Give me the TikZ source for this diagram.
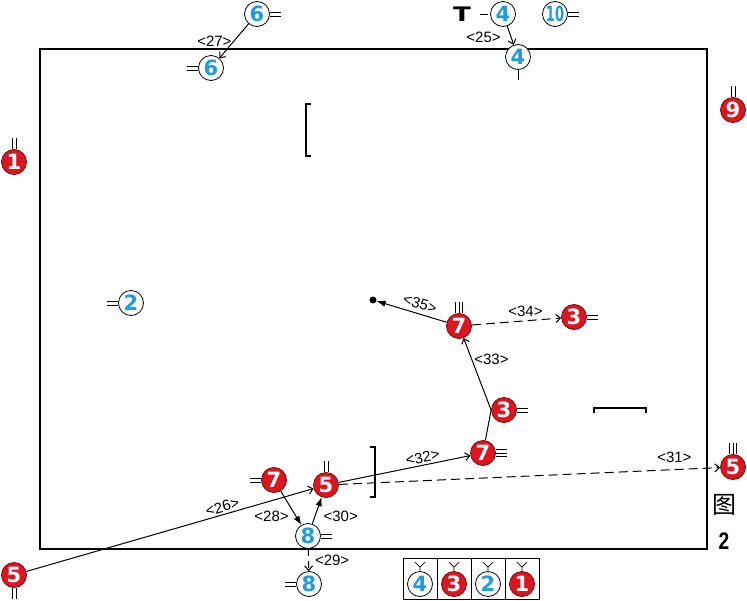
\documentclass[tikz,border=0pt]{standalone}
\usepackage{fontspec}
\setmainfont{Liberation Sans}
\newfontfamily\numfont{DejaVu Sans}
\newfontfamily\cjk{Noto Sans CJK SC}
\usepackage{graphicx}
\usetikzlibrary{arrows.meta}
\definecolor{manred}{RGB}{220,22,32}
\definecolor{rimred}{RGB}{110,10,10}
\definecolor{manblue}{RGB}{30,155,225}
\tikzset{
    blueman/.style={shape=circle, draw=black, line width=0.8pt, fill=white, text=manblue,
        minimum size=25pt, inner sep=0pt, font=\numfont\bfseries\fontsize{21}{21}\selectfont},
    redman/.style={shape=circle, draw=rimred, line width=0.8pt, fill=manred, text=white,
        minimum size=25pt, inner sep=0pt, font=\numfont\bfseries\fontsize{21}{21}\selectfont},
    runlabel/.style={font=\fontsize{15}{15}\selectfont, inner sep=2pt, text=black},
    pass/.style={line width=1pt, >={Straight Barb[length=4.5pt,width=8pt]}},
    shot/.style={line width=1pt, >={Latex[length=9pt,width=6.5pt]}},
    facing/.style={line width=0.8pt},
    bracket/.style={line width=1.3pt}}

\begin{document}
\begin{tikzpicture}[x=1pt, y=-1pt]
    \useasboundingbox (0,0) rectangle (747,600);

    % court and marks
    \draw[line width=2.6pt] (40,49) rectangle (707,549);
    \draw[bracket] (311,104) -- (306,104) -- (306,156) -- (311,156);
    \draw[bracket] (370,447) -- (375,447) -- (375,497) -- (370,497);
    \draw[bracket] (594,413) -- (594,408) -- (646,408) -- (646,413);

    % players
    \node[blueman] (b6a) at (257,14) {6};
    \node[blueman] (b6b) at (211,68) {6};
    \node[font=\numfont\bfseries\fontsize{20}{20}\selectfont] (tee) at (462,14) {\scalebox{1.3}[1]{T}};
    \node[blueman] (b4a) at (503,14) {4};
    \node[blueman] (b4b) at (518,57) {4};
    \node[blueman] (b10) at (555,14) {\scalebox{0.62}[1]{10}};
    \node[redman] (r9) at (733,110) {9};
    \node[redman] (r1) at (14,162) {1};
    \node[blueman] (b2) at (131,303) {2};
    \node[shape=circle, fill=black, inner sep=0pt, minimum size=7pt] (ball) at (373,300) {};
    \node[redman] (r7a) at (459,326) {7};
    \node[redman] (r3a) at (574,317) {3};
    \node[redman] (r3b) at (504,410) {3};
    \node[redman] (r7b) at (483,453) {7};
    \node[redman] (r7c) at (274,480) {7};
    \node[redman] (r5b) at (326,485) {5};
    \node[redman] (r5c) at (733,467) {5};
    \node[redman] (r5a) at (14,575) {5};
    \node[blueman] (b8a) at (308,536) {8};
    \node[blueman] (b8b) at (309,584) {8};
    \node[font=\cjk\fontsize{24}{24}\selectfont] (fig) at (724,505) {图};
    \node[font=\bfseries\fontsize{24}{24}\selectfont] (fignum) at (724,541) {\scalebox{0.8}[1]{2}};

    % facing marks
    \draw[facing] ([yshift=2pt]b6a.east) -- ++(11,0) ([yshift=-2pt]b6a.east) -- ++(11,0);
    \draw[facing] ([yshift=2pt]b6b.west) -- ++(-11,0) ([yshift=-2pt]b6b.west) -- ++(-11,0);
    \draw[facing] ([xshift=-2pt]b4a.west) -- ++(-8,0);
    \draw[facing] (b4b.south) -- ++(0,10);
    \draw[facing] ([yshift=2pt]b10.east) -- ++(11,0) ([yshift=-2pt]b10.east) -- ++(11,0);
    \draw[facing] ([xshift=-2pt]r9.north) -- ++(0,-11) ([xshift=2pt]r9.north) -- ++(0,-11);
    \draw[facing] ([xshift=-2pt]r1.north) -- ++(0,-11) ([xshift=2pt]r1.north) -- ++(0,-11);
    \draw[facing] ([yshift=2pt]b2.west) -- ++(-11,0) ([yshift=-2pt]b2.west) -- ++(-11,0);
    \draw[facing] ([xshift=-3.5pt]r7a.north) -- ++(0,-11) (r7a.north) -- ++(0,-11) ([xshift=3.5pt]r7a.north) -- ++(0,-11);
    \draw[facing] ([yshift=2pt]r3a.east) -- ++(11,0) ([yshift=-2pt]r3a.east) -- ++(11,0);
    \draw[facing] ([yshift=2pt]r3b.east) -- ++(11,0) ([yshift=-2pt]r3b.east) -- ++(11,0);
    \draw[facing] ([yshift=3.5pt]r7b.east) -- ++(11,0) (r7b.east) -- ++(11,0) ([yshift=-3.5pt]r7b.east) -- ++(11,0);
    \draw[facing] ([yshift=2pt]r7c.west) -- ++(-11,0) ([yshift=-2pt]r7c.west) -- ++(-11,0);
    \draw[facing] ([xshift=-2pt]r5b.north) -- ++(0,-11) ([xshift=2pt]r5b.north) -- ++(0,-11);
    \draw[facing] ([xshift=-3.5pt]r5c.north) -- ++(0,-11) (r5c.north) -- ++(0,-11) ([xshift=3.5pt]r5c.north) -- ++(0,-11);
    \draw[facing] ([xshift=-2pt]r5a.south) -- ++(0,11) ([xshift=2pt]r5a.south) -- ++(0,11);
    \draw[facing] ([yshift=2pt]b8a.east) -- ++(11,0) ([yshift=-2pt]b8a.east) -- ++(11,0);
    \draw[facing] ([yshift=2pt]b8b.west) -- ++(-11,0) ([yshift=-2pt]b8b.west) -- ++(-11,0);

    % runs and passes
    \draw[pass, ->] (b4a) -- (b4b) node[runlabel, pos=0.6, left=8pt] {<25>};
    \draw[pass, ->] (r5a) -- (r5b) node[runlabel, pos=0.69, sloped, above] {<26>};
    \draw[pass, ->] (b6a) -- (b6b) node[runlabel, midway, left] {<27>};
    \draw[shot, ->] (r7c) -- (b8a) node[runlabel, pos=0.75, left=5pt] {<28>};
    \draw[pass, dash pattern=on 7pt off 5pt, ->] (b8a) -- (b8b) node[runlabel, midway, right=4pt] {<29>};
    \draw[shot, ->] (b8a) -- (r5b) node[runlabel, pos=0.3, right=6pt] {<30>};
    \draw[pass, dash pattern=on 9pt off 5pt, ->] (r5b) -- (r5c) node[runlabel, pos=0.88, above=4pt] {<31>};
    \draw[pass, ->] (r5b) -- (r7b) node[runlabel, pos=0.65, sloped, above] {<32>};
    \draw[pass, ->] (r7b) -- (r3b.west) -- (r7a) node[runlabel, pos=0.7, right] {<33>};
    \draw[pass, dash pattern=on 9pt off 5pt, ->] (r7a) -- (r3a) node[runlabel, pos=0.6, above=2pt] {<34>};
    \draw[shot, <-] (ball) -- (r7a) node[runlabel, pos=0.58, sloped, above=2pt] {<35>};

    % key
    \draw[line width=0.8pt] (403,558) rectangle (539,599);
    \foreach \x in {437,471,505}
        \draw[line width=0.8pt] (\x,558) -- (\x,599);
    \node[blueman] (k4) at (420,584) {4};
    \node[redman] (k3) at (454,584) {3};
    \node[blueman] (k2) at (488,584) {2};
    \node[redman] (k1) at (522,584) {1};
    \foreach \k in {k4,k3,k2,k1}
        \draw[facing] (\k.north) -- ++(0,-4) -- ++(-5,-5) ++(5,5) -- ++(5,-5);
\end{tikzpicture}
\end{document}
